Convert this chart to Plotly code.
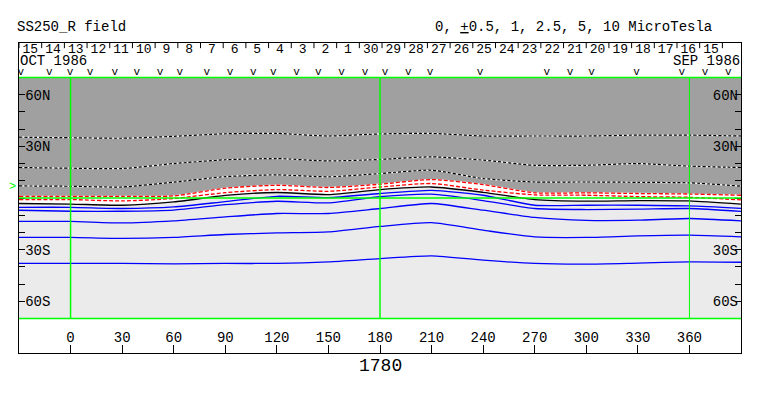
import plotly.graph_objects as go

# ---------------- data ----------------
lon = [-30, 0, 30, 60, 90, 120, 150, 180, 210, 240, 270, 300, 330, 360, 390]

# positive contours (black/white dashed)
pos_c1 = [35.3, 35.0, 34.7, 35.8, 37.3, 37.5, 36.0, 37.2, 37.5, 36.0, 36.0, 36.0, 36.5, 36.5, 36.0]
pos_c2 = [17.7, 17.3, 17.1, 20.0, 22.2, 22.9, 21.5, 22.4, 23.9, 22.0, 19.0, 19.0, 20.0, 18.5, 17.7]
pos_c3 = [7.0, 6.8, 6.4, 9.2, 12.4, 13.4, 12.3, 14.2, 16.1, 11.3, 9.3, 9.3, 9.1, 8.8, 6.9]
# red dashed contours
red_c1 = [1.0, 1.0, 1.0, 1.2, 5.7, 7.4, 6.1, 8.0, 10.7, 7.8, 3.0, 3.0, 2.6, 2.3, 1.6]
red_c2 = [-0.9, -0.9, -1.7, -0.3, 3.1, 4.9, 3.9, 6.4, 8.4, 4.6, 1.8, 1.6, 0.8, 0.4, -1.1]
# black solid contour
black_c = [-3.2, -3.5, -4.2, -2.3, 1.5, 3.2, 2.0, 4.9, 6.4, 3.3, -0.9, -1.8, -1.5, -1.7, -3.6]
# negative contours (blue)
neg_c1 = [-5.4, -5.4, -6.1, -5.2, -2.1, 1.0, 0.2, 2.6, 4.4, 1.6, -4.2, -4.2, -4.2, -4.6, -6.0]
neg_c2 = [-7.1, -7.7, -7.7, -7.0, -3.9, -1.9, -2.8, 0.8, 2.2, -1.5, -6.1, -6.7, -6.5, -6.1, -7.8]
neg_c3 = [-13.6, -13.6, -14.5, -13.3, -11.0, -9.0, -9.0, -6.1, -3.2, -7.1, -11.3, -13.0, -12.9, -11.9, -13.3]
neg_c4 = [-22.9, -22.9, -23.5, -22.9, -21.2, -20.3, -19.7, -16.5, -14.3, -18.7, -22.6, -22.9, -22.0, -21.6, -22.6]
neg_c5 = [-38.0, -38.0, -38.0, -38.3, -38.0, -38.0, -37.1, -35.2, -33.6, -36.1, -38.0, -38.4, -37.8, -37.1, -37.3]

day_labels = ["15", "14", "13", "12", "11", "10", "9", "8", "7", "6", "5", "4", "3", "2", "1",
              "30", "29", "28", "27", "26", "25", "24", "23", "22", "21", "20", "19", "18", "17", "16", "15"]
obs_lon = [-29.0, -12.4, -0.3, 11.3, 25.8, 38.5, 52.0, 63.6, 79.2, 92.7, 106.3, 117.9, 131.5, 144.1,
           157.7, 171.3, 182.9, 196.5, 209.1, 238.2, 277.0, 290.5, 303.1, 329.3, 355.5, 369.1, 382.6]
lon_ticks = [0, 30, 60, 90, 120, 150, 180, 210, 240, 270, 300, 330, 360]
lat_ticks = [-80, -70, -60, -50, -40, -30, -20, -10, 0, 10, 20, 30, 40, 50, 60, 70]
lat_named = {60: "60N", 30: "30N", -30: "30S", -60: "60S"}
meridians = [0, 180, 360]
b0_lat = 6.5
title_left = "SS250_R field"
title_right = "0, <u>+</u>0.5, 1, 2.5, 5, 10 MicroTesla"
rotation = "1780"
month_left = "OCT 1986"
month_right = "SEP 1986"

# ---------------- styling ----------------
FONT = "Liberation Mono"
DARK = "#a0a0a0"
LIGHT = "#ebebeb"
GREEN = "#00ff00"
BLUE = "#0000ff"
LON_MIN, LON_MAX = -30, 390
MAP_TOP, MAP_BOT = 70, -70
FRAME = 90
DEG_PER_DAY = 360 / 27.2753
SPL = dict(shape="spline", smoothing=0.6)

fig = go.Figure()


def add_line(y, color, width, dash="solid", base=None):
    if base:
        fig.add_trace(go.Scatter(x=lon, y=y, mode="lines", hoverinfo="skip", showlegend=False,
                                 line=dict(color=base, width=width, **SPL)))
    fig.add_trace(go.Scatter(x=lon, y=y, mode="lines", hoverinfo="skip", showlegend=False,
                             line=dict(color=color, width=width, dash=dash, **SPL)))


# polarity fills
fig.add_trace(go.Scatter(x=lon, y=black_c, mode="lines", hoverinfo="skip", showlegend=False,
                         line=dict(width=0, **SPL)))
fig.add_trace(go.Scatter(x=lon, y=red_c1, mode="lines", hoverinfo="skip", showlegend=False,
                         line=dict(width=0, **SPL), fill="tonexty", fillcolor="white"))
fig.add_trace(go.Scatter(x=lon, y=[MAP_TOP] * len(lon), mode="lines", hoverinfo="skip", showlegend=False,
                         line=dict(width=0), fill="tonexty", fillcolor=DARK))

# contours
for c in (pos_c1, pos_c2, pos_c3):
    add_line(c, "black", 1.2, dash="3px,2px", base="white")
for c in (red_c1, red_c2):
    add_line(c, "red", 1.3, dash="4px,2px", base="white")
add_line(black_c, "black", 1.3)
for c in (neg_c1, neg_c2, neg_c3, neg_c4, neg_c5):
    add_line(c, BLUE, 1.3)

# day tick marks in the top box
tx, ty = [], []
for i in range(len(day_labels) + 1):
    x = LON_MIN + i * DEG_PER_DAY
    tx += [x, x, None]
    ty += [FRAME, FRAME - 3, None]
fig.add_trace(go.Scatter(x=tx, y=ty, mode="lines", line=dict(color="black", width=1),
                         hoverinfo="skip", showlegend=False))
fig.add_trace(go.Scatter(x=[LON_MIN + (i + 0.5) * DEG_PER_DAY for i in range(len(day_labels))],
                         y=[86.2] * len(day_labels), mode="text", text=day_labels,
                         textfont=dict(family=FONT, size=13, color="black"),
                         hoverinfo="skip", showlegend=False, cliponaxis=False))
fig.add_trace(go.Scatter(x=obs_lon, y=[72.8] * len(obs_lon), mode="text", text=["v"] * len(obs_lon),
                         textfont=dict(family=FONT, size=11, color="black"),
                         hoverinfo="skip", showlegend=False, cliponaxis=False))

# map background and green grid
shapes = [dict(type="rect", xref="x", yref="y", x0=LON_MIN, x1=LON_MAX, y0=MAP_BOT, y1=MAP_TOP,
               fillcolor=LIGHT, line=dict(width=0), layer="below")]
for la in (MAP_TOP, 0, MAP_BOT):
    shapes.append(dict(type="line", xref="x", yref="y", x0=LON_MIN, x1=LON_MAX, y0=la, y1=la,
                       line=dict(color=GREEN, width=1.5), layer="above"))
for m in meridians:
    shapes.append(dict(type="line", xref="x", yref="y", x0=m, x1=m, y0=MAP_BOT, y1=MAP_TOP,
                       line=dict(color=GREEN, width=1.5 if m < 360 else 1), layer="above"))

ticktext = [lat_named.get(v, "") for v in lat_ticks]
tfont = dict(family=FONT, size=14, color="black")

annotations = [
    dict(text=title_left, xref="paper", yref="paper", x=-0.005, y=1.052, xanchor="left", yanchor="middle",
         showarrow=False, font=tfont),
    dict(text=title_right, xref="paper", yref="paper", x=0.962, y=1.052, xanchor="right", yanchor="middle",
         showarrow=False, font=tfont),
    dict(text=month_left, xref="x", yref="y", x=LON_MIN, y=79.6, xanchor="left", yanchor="middle",
         showarrow=False, font=tfont, xshift=-1),
    dict(text=month_right, xref="x", yref="y", x=LON_MAX, y=79.6, xanchor="right", yanchor="middle",
         showarrow=False, font=tfont, xshift=1),
    dict(text=">", xref="x", yref="y", x=LON_MIN, y=b0_lat, xanchor="right", yanchor="middle",
         showarrow=False, font=dict(family=FONT, size=12, color=GREEN), xshift=-1),
    dict(text=rotation, xref="x", yref="paper", x=180, y=-0.042, xanchor="center", yanchor="middle",
         showarrow=False, font=dict(family=FONT, size=18, color="black")),
]

# page body adds an 8px offset; margins compensate so the frame lands at the reference position
fig.update_layout(
    width=763, height=396,
    margin=dict(l=11, r=30, t=35, b=51, autoexpand=False),
    paper_bgcolor="white", plot_bgcolor="white",
    showlegend=False,
    shapes=shapes,
    annotations=annotations,
    xaxis=dict(range=[LON_MIN, LON_MAX], tickvals=lon_ticks, ticks="inside", ticklen=8, tickwidth=1,
               tickcolor="black", ticklabelposition="inside", tickfont=tfont,
               showline=True, linecolor="black", linewidth=1, mirror=True,
               showgrid=False, zeroline=False, automargin=False),
    yaxis=dict(range=[-FRAME, FRAME], tickvals=lat_ticks, ticktext=ticktext, ticks="inside", ticklen=6,
               tickwidth=1, tickcolor="black", ticklabelposition="inside", tickfont=tfont,
               showline=True, linecolor="black", linewidth=1, mirror="ticks",
               showgrid=False, zeroline=False, automargin=False),
    yaxis2=dict(range=[-FRAME, FRAME], overlaying="y", side="right", tickvals=lat_ticks, ticktext=ticktext,
                ticks="", ticklabelposition="inside", tickfont=tfont, showline=False,
                showgrid=False, zeroline=False, automargin=False),
)
# dummy trace to activate the right axis labels
fig.add_trace(go.Scatter(x=[None], y=[None], yaxis="y2", showlegend=False, hoverinfo="skip"))

fig.write_html("out.html")
